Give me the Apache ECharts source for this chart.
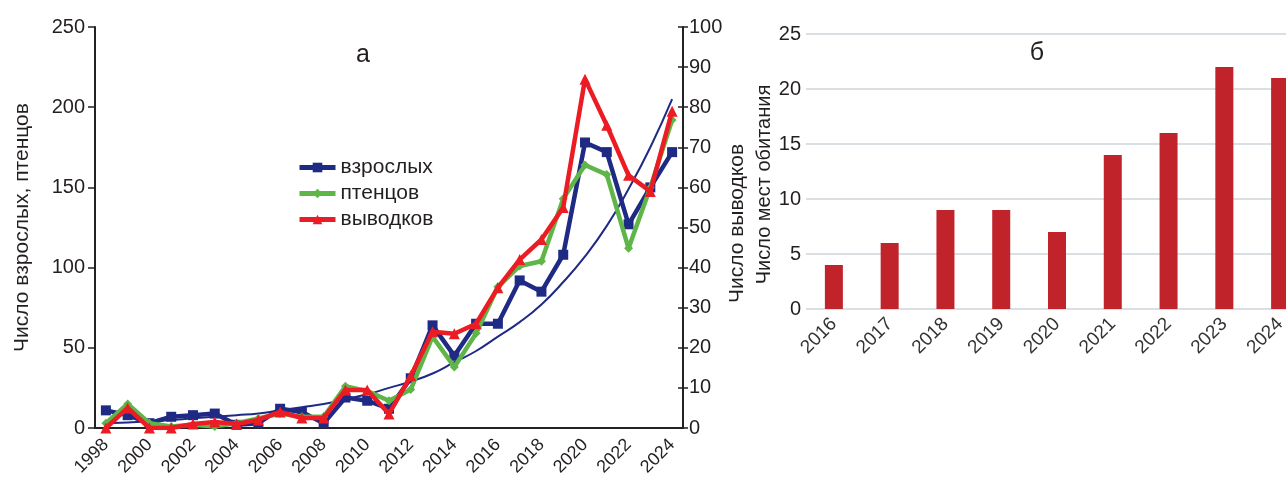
<!DOCTYPE html>
<html>
<head>
<meta charset="utf-8">
<script src="https://cdn.jsdelivr.net/npm/echarts@6/dist/echarts.min.js"></script>
<style>
  html, body { margin: 0; padding: 0; background: #fff; }
  #myChart { width: 1286px; height: 485px; }
</style>
</head>
<body>
<div id="myChart"></div>
<script>
// данные (а)
var years = ['1998', '1999', '2000', '2001', '2002', '2003', '2004', '2005', '2006', '2007',
  '2008', '2009', '2010', '2011', '2012', '2013', '2014', '2015', '2016', '2017',
  '2018', '2019', '2020', '2021', '2022', '2023', '2024']
var adults = [11, 8, 3, 7, 8, 9, 2, 3, 12, 10, 3, 19, 17, 12, 31, 64, 45, 65, 65, 92,
  85, 108, 178, 172, 127, 150, 172]
var chicks = [3, 15, 3, 1, 2, 1, 3, 6, 9, 7, 7, 26, 23, 17, 24, 57, 38, 59, 88, 101,
  104, 143, 164, 158, 112, 150, 192]
var broods = [0, 5, 0, 0, 1, 1.5, 1, 2, 4, 2.5, 2.5, 9.5, 9.5, 3.5, 13, 24, 23.5, 26, 35, 42,
  47, 55, 87, 75.5, 63, 59, 79]
var trend = [3, 3.5, 4, 5, 6, 7, 8, 9, 11, 13, 15, 18, 21, 25, 29, 34, 41, 48, 57, 66,
  77, 91, 107, 126, 149, 175, 205]

// данные (б)
var habYears = ['2016', '2017', '2018', '2019', '2020', '2021', '2022', '2023', '2024']
var habitats = [4, 6, 9, 9, 7, 14, 16, 22, 21]

var font = 'Liberation Sans, Arial, sans-serif'
var txt = '#231f20'

var myChart = echarts.init(document.getElementById('myChart'))
myChart.setOption({
  animation: false,
  textStyle: { fontFamily: font },
  graphic: [
    { type: 'text', x: 363, y: 55, style: { text: 'а', font: '25px ' + font, fill: txt, align: 'center', verticalAlign: 'middle' } },
    { type: 'text', x: 1037, y: 53, style: { text: 'б', font: '25px ' + font, fill: txt, align: 'center', verticalAlign: 'middle' } }
  ],
  legend: {
    data: ['взрослых', 'птенцов', 'выводков'],
    orient: 'vertical',
    left: 297,
    top: 157,
    padding: 0,
    itemWidth: 36,
    itemHeight: 12,
    itemGap: 5,
    lineStyle: { width: 5 },
    textStyle: { fontSize: 21, color: txt, fontFamily: font }
  },
  grid: [
    { left: 95, top: 27, width: 588, height: 401, outerBoundsMode: 'none' },
    { left: 806, top: 34, width: 502, height: 275, outerBoundsMode: 'none' }
  ],
  xAxis: [
    {
      gridIndex: 0,
      type: 'category',
      data: years,
      position: 'bottom',
      axisLine: { lineStyle: { color: '#222', width: 2 } },
      axisTick: { interval: 0, length: 6, lineStyle: { color: '#222', width: 1.5 } },
      axisLabel: { interval: 1, rotate: 45, fontSize: 18, color: txt, margin: 14 }
    },
    {
      // внутренние штрихи
      gridIndex: 0,
      type: 'category',
      data: years,
      position: 'bottom',
      axisLine: { show: false },
      axisTick: { inside: true, interval: 0, length: 5, lineStyle: { color: '#222', width: 1.5 } },
      axisLabel: { show: false }
    },
    {
      gridIndex: 1,
      type: 'category',
      data: habYears,
      axisLine: { show: false },
      axisTick: { show: false },
      axisLabel: { rotate: 45, fontSize: 19, color: '#333', margin: 12 }
    }
  ],
  yAxis: [
    {
      gridIndex: 0,
      type: 'value',
      min: 0,
      max: 250,
      interval: 50,
      name: 'Число взрослых, птенцов',
      nameLocation: 'middle',
      nameGap: 62,
      nameTextStyle: { fontSize: 21, color: txt },
      axisLine: { show: true, lineStyle: { color: '#222', width: 2 } },
      axisTick: { show: true, length: 7, lineStyle: { color: '#222', width: 1.5 } },
      axisLabel: { fontSize: 20, color: txt, margin: 10 },
      splitLine: { show: false }
    },
    {
      gridIndex: 0,
      type: 'value',
      position: 'right',
      min: 0,
      max: 100,
      interval: 10,
      name: 'Число выводков',
      nameLocation: 'middle',
      nameGap: 43,
      nameTextStyle: { fontSize: 21, color: txt, padding: [0, 0, 0, 8] },
      axisLine: { show: true, lineStyle: { color: '#222', width: 2 } },
      axisTick: { show: true, length: 5, lineStyle: { color: '#222', width: 1.5 } },
      axisLabel: { fontSize: 20, color: txt, margin: 6 },
      splitLine: { show: false }
    },
    {
      gridIndex: 0,
      type: 'value',
      min: 0,
      max: 250,
      interval: 50,
      axisLine: { show: false },
      axisTick: { show: true, inside: true, length: 5, lineStyle: { color: '#222', width: 1.5 } },
      axisLabel: { show: false },
      splitLine: { show: false }
    },
    {
      gridIndex: 0,
      type: 'value',
      position: 'right',
      min: 0,
      max: 100,
      interval: 10,
      axisLine: { show: false },
      axisTick: { show: true, inside: true, length: 5, lineStyle: { color: '#222', width: 1.5 } },
      axisLabel: { show: false },
      splitLine: { show: false }
    },
    {
      gridIndex: 1,
      type: 'value',
      min: 0,
      max: 25,
      interval: 5,
      name: 'Число мест обитания',
      nameLocation: 'middle',
      nameGap: 30,
      nameTextStyle: { fontSize: 20, color: txt, padding: [0, 26, 0, 0] },
      axisLine: { show: false },
      axisTick: { show: false },
      axisLabel: { fontSize: 20, color: txt, margin: 5 },
      splitLine: { lineStyle: { color: '#cdd5d9', width: 1.5 } }
    }
  ],
  series: [
    {
      name: 'тренд',
      type: 'line',
      xAxisIndex: 0,
      yAxisIndex: 0,
      data: trend,
      smooth: true,
      symbol: 'none',
      lineStyle: { color: '#1f2a84', width: 2 },
      z: 1
    },
    {
      name: 'взрослых',
      type: 'line',
      xAxisIndex: 0,
      yAxisIndex: 0,
      data: adults,
      symbol: 'rect',
      symbolSize: 10,
      itemStyle: { color: '#1f2a84' },
      lineStyle: { color: '#1f2a84', width: 4.5 },
      z: 2
    },
    {
      name: 'птенцов',
      type: 'line',
      xAxisIndex: 0,
      yAxisIndex: 0,
      data: chicks,
      symbol: 'diamond',
      symbolSize: 9,
      itemStyle: { color: '#5fb548' },
      lineStyle: { color: '#5fb548', width: 4.5 },
      z: 3
    },
    {
      name: 'выводков',
      type: 'line',
      xAxisIndex: 0,
      yAxisIndex: 1,
      data: broods,
      symbol: 'triangle',
      symbolSize: 11,
      itemStyle: { color: '#ec1c24' },
      lineStyle: { color: '#ec1c24', width: 4.5 },
      z: 4
    },
    {
      name: 'места',
      type: 'bar',
      xAxisIndex: 2,
      yAxisIndex: 4,
      data: habitats,
      barWidth: 18,
      itemStyle: { color: '#c1232b' }
    }
  ]
})
</script>
</body>
</html>
